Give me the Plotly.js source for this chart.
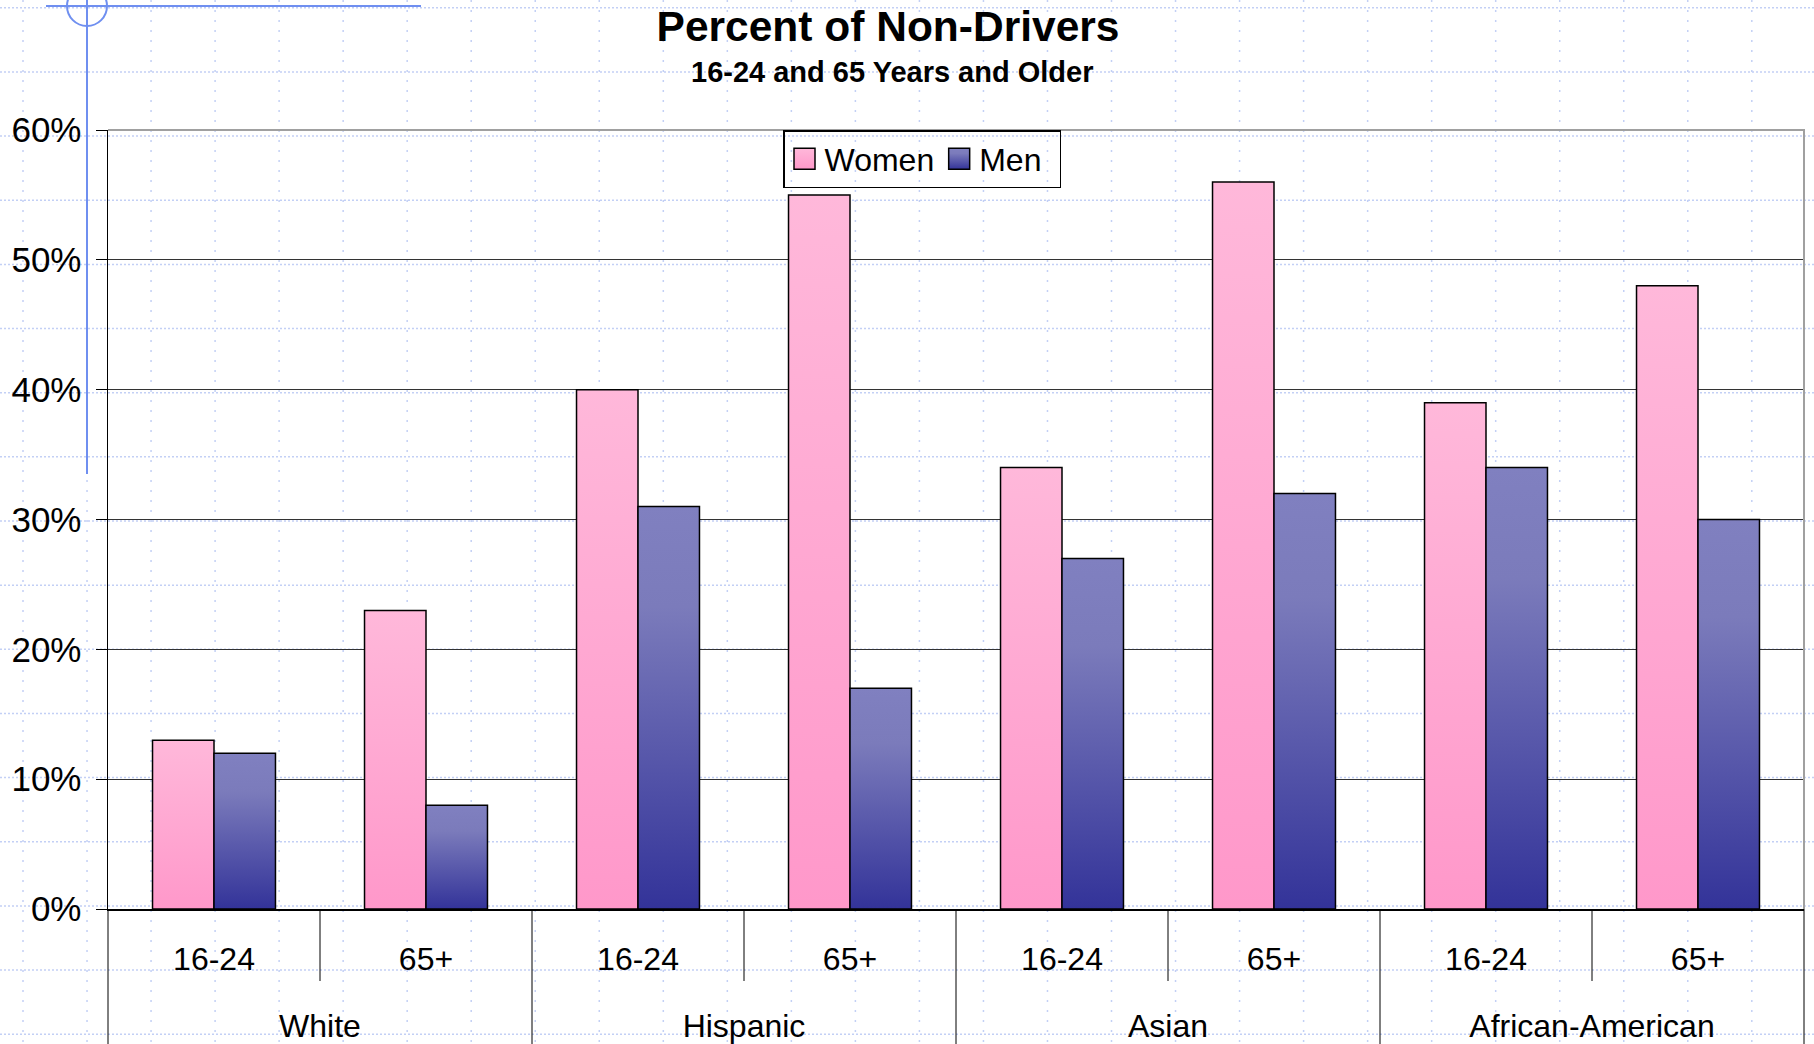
<!DOCTYPE html>
<html>
<head>
<meta charset="utf-8">
<script src="https://cdn.plot.ly/plotly-3.0.1.min.js"></script>
<style>
  html, body { margin: 0; padding: 0; background: #ffffff; }
  #chart { width: 1814px; height: 1044px; }
</style>
</head>
<body>
<div id="chart"></div>
<script>
// ---- data ----
const groups = ['White', 'White', 'Hispanic', 'Hispanic', 'Asian', 'Asian', 'African-American', 'African-American'];
const ages = ['16-24', '65+', '16-24', '65+', '16-24', '65+', '16-24', '65+'];
const women = [0.13, 0.23, 0.40, 0.55, 0.34, 0.56, 0.39, 0.48];
const men = [0.12, 0.08, 0.31, 0.17, 0.27, 0.32, 0.34, 0.30];
const seriesNames = ['Women', 'Men'];
const titleText = 'Percent of Non-Drivers';
const subtitleText = '16-24 and 65 Years and Older';

// ---- geometry / style ----
const W = 1814, H = 1044;
const M = { l: 108, r: 10, t: 130, b: 135 };
const PW = W - M.l - M.r, PH = H - M.t - M.b;
const px2x = p => (p - M.l) / PW;
const py2y = p => (H - M.b - p) / PH;
const FONT = '"Liberation Sans", Arial, Helvetica, sans-serif';
const GROUP_LABEL_SHIFT = 50;
const LEGEND_EXTRA_RIGHT = 13;

const shapes = [];
// decorative dotted page grid
const gridCol = '#c3d0f5';
for (let k = 0; ; k++) {
  const y = 7.8 + 64.15 * k;
  if (y > H) break;
  shapes.push({ type: 'line', xref: 'paper', yref: 'paper', layer: 'below',
    x0: px2x(0), x1: px2x(W), y0: py2y(y), y1: py2y(y),
    line: { color: gridCol, width: 1.5, dash: '2px,2px' } });
}
for (let k = 0; ; k++) {
  const x = 23 + 64.03 * k;
  if (x > W) break;
  shapes.push({ type: 'line', xref: 'paper', yref: 'paper', layer: 'below',
    x0: px2x(x), x1: px2x(x), y0: py2y(0), y1: py2y(H),
    line: { color: gridCol, width: 1.5, dash: '2px,8px' } });
}
// blue guide artefacts at top-left
const guide = '#6f8ff0';
shapes.push({ type: 'line', xref: 'paper', yref: 'paper', layer: 'above',
  x0: px2x(46), x1: px2x(421), y0: py2y(6), y1: py2y(6), line: { color: guide, width: 2 } });
shapes.push({ type: 'line', xref: 'paper', yref: 'paper', layer: 'above',
  x0: px2x(87), x1: px2x(87), y0: py2y(0), y1: py2y(474), line: { color: guide, width: 2 } });
shapes.push({ type: 'circle', xref: 'paper', yref: 'paper', layer: 'above',
  x0: px2x(67), x1: px2x(107), y0: py2y(-14), y1: py2y(26), line: { color: guide, width: 2 } });
// grey plot-area border (top and right)
shapes.push({ type: 'path', xref: 'paper', yref: 'paper', layer: 'above',
  path: 'M0,1 L1,1 L1,0', line: { color: '#a0a0a0', width: 2 } });
// category dividers below the axis
const n = ages.length;
for (let i = 0; i <= n; i++) {
  const groupEdge = (i === 0 || i === n || groups[i] !== groups[i - 1]);
  shapes.push({ type: 'line', xref: 'paper', yref: 'paper', layer: 'above',
    x0: i / n, x1: i / n, y0: 0, y1: groupEdge ? py2y(H + 2) : -72 / PH,
    line: { color: '#000', width: 1 } });
}

const traces = [
  { type: 'bar', name: seriesNames[0], x: [groups, ages], y: women,
    marker: { color: '#ffa8d2', line: { color: '#000', width: 1.5 } } },
  { type: 'bar', name: seriesNames[1], x: [groups, ages], y: men,
    marker: { color: '#5a5aa8', line: { color: '#000', width: 1.5 } } }
];

const layout = {
  width: W, height: H,
  margin: M,
  paper_bgcolor: '#ffffff',
  plot_bgcolor: 'rgba(0,0,0,0)',
  font: { family: FONT, color: '#000' },
  barmode: 'group', bargap: 0.42, bargroupgap: 0,
  title: {
    text: '<b>' + titleText + '</b>',
    font: { family: FONT, size: 42.5, color: '#000' },
    x: 888 / W, xref: 'container', xanchor: 'center',
    y: 1 - 26 / H, yref: 'container', yanchor: 'middle'
  },
  annotations: [{
    text: '<b>' + subtitleText + '</b>', showarrow: false,
    xref: 'paper', yref: 'paper', x: px2x(892), y: py2y(72),
    xanchor: 'center', yanchor: 'middle',
    font: { family: FONT, size: 29, color: '#000' }
  }],
  xaxis: {
    type: 'multicategory', range: [-0.5, n - 0.5],
    showline: true, linecolor: '#000', linewidth: 1.5,
    ticks: '', showgrid: false, zeroline: false,
    showdividers: false,
    ticklabelstandoff: 21,
    tickfont: { family: FONT, size: 32, color: '#000' }
  },
  yaxis: {
    range: [0, 0.6], dtick: 0.1, tickformat: '.0%',
    showline: true, linecolor: '#000', linewidth: 1.5,
    ticks: 'outside', ticklen: 11, tickcolor: '#000', tickwidth: 1,
    showgrid: true, gridcolor: '#333', gridwidth: 1, zeroline: false,
    ticklabelstandoff: 7,
    tickfont: { family: FONT, size: 35, color: '#000' }
  },
  legend: {
    orientation: 'h', x: px2x(783), xanchor: 'left', y: 1, yanchor: 'top',
    bgcolor: 'rgba(0,0,0,0)', bordercolor: '#000', borderwidth: 1.5,
    font: { family: FONT, size: 32, color: '#000' }
  },
  shapes: shapes
};

Plotly.newPlot('chart', traces, layout, { staticPlot: true, displayModeBar: false }).then(gd => {
  const svg = gd.querySelector('svg.main-svg');
  const NS = 'http://www.w3.org/2000/svg';
  let defs = svg.querySelector('defs');
  if (!defs) { defs = document.createElementNS(NS, 'defs'); svg.insertBefore(defs, svg.firstChild); }
  const mkGrad = (id, stops) => {
    const g = document.createElementNS(NS, 'linearGradient');
    g.setAttribute('id', id);
    g.setAttribute('x1', '0'); g.setAttribute('y1', '0');
    g.setAttribute('x2', '0'); g.setAttribute('y2', '1');
    stops.forEach(([o, c]) => {
      const s = document.createElementNS(NS, 'stop');
      s.setAttribute('offset', o); s.setAttribute('stop-color', c);
      g.appendChild(s);
    });
    defs.appendChild(g);
  };
  mkGrad('gradWomen', [['0', '#ffb8da'], ['1', '#ff98ca']]);
  mkGrad('gradMen', [['0', '#8080c0'], ['0.25', '#7b7bbb'], ['1', '#333399']]);
  const ids = ['gradWomen', 'gradMen'];
  gd.querySelectorAll('.barlayer .trace.bars').forEach((t, i) => {
    t.querySelectorAll('.point path').forEach(p => { p.style.fill = 'url(#' + ids[i] + ')'; });
  });
  gd.querySelectorAll('.legend .traces').forEach((t, i) => {
    t.querySelectorAll('.legendpoints path').forEach(p => {
      p.setAttribute('d', 'M10.5,10.5H-10.5V-10.5H10.5Z');
      p.style.fill = 'url(#' + ids[i] + ')';
      p.style.stroke = '#000';
      p.style.strokeWidth = '1.5px';
    });
  });
  // widen the legend frame a little on the right, as in the original
  const bg = gd.querySelector('.legend rect.bg');
  if (bg) {
    const w = parseFloat(bg.getAttribute('width'));
    if (!isNaN(w)) bg.setAttribute('width', w + LEGEND_EXTRA_RIGHT);
  }
  // push the group-level (second row) category labels further down
  gd.querySelectorAll('g.xtick2 text').forEach(t => {
    const prev = t.getAttribute('transform') || '';
    t.setAttribute('transform', 'translate(0,' + GROUP_LABEL_SHIFT + ') ' + prev);
  });
});
</script>
</body>
</html>
